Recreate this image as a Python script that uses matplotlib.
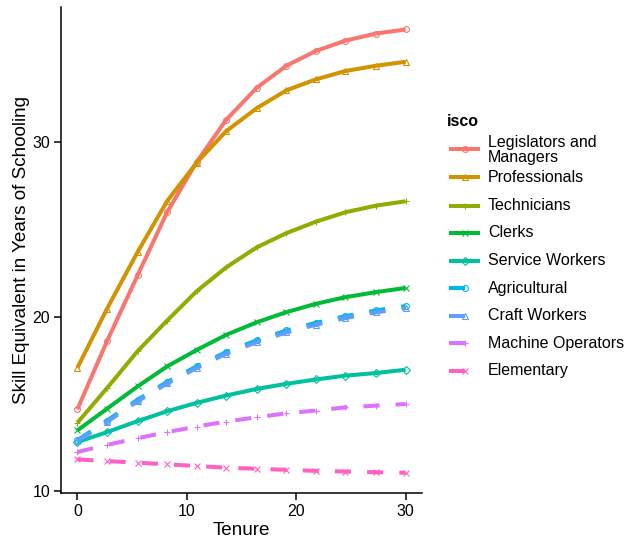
import matplotlib
matplotlib.use("Agg")
import matplotlib.pyplot as plt
from matplotlib.lines import Line2D

plt.rcParams['font.family'] = ['Liberation Sans', 'DejaVu Sans']

tenure = [0, 2.7, 5.5, 8.2, 10.9, 13.6, 16.4, 19.1, 21.8, 24.5, 27.3, 30]

categories = ["Legislators and\nManagers", "Professionals", "Technicians", "Clerks",
              "Service Workers", "Agricultural", "Craft Workers",
              "Machine Operators", "Elementary"]

legislators = [14.70, 18.60, 22.38, 26.00, 28.88, 31.30, 33.14, 34.40, 35.25, 35.84, 36.25, 36.48]
professionals = [17.08, 20.46, 23.72, 26.64, 28.84, 30.65, 31.97, 32.99, 33.62, 34.10, 34.40, 34.63]
technicians = [13.93, 15.91, 18.03, 19.79, 21.47, 22.84, 23.99, 24.80, 25.46, 26.00, 26.38, 26.63]
clerks = [13.49, 14.73, 16.01, 17.16, 18.10, 18.97, 19.69, 20.27, 20.75, 21.13, 21.42, 21.66]
agricultural = [12.93, 14.05, 15.25, 16.27, 17.16, 17.98, 18.66, 19.22, 19.66, 20.04, 20.37, 20.62]
craft = [12.87, 13.98, 15.16, 16.18, 17.07, 17.89, 18.55, 19.11, 19.55, 19.93, 20.26, 20.50]
service = [12.82, 13.39, 14.02, 14.59, 15.07, 15.49, 15.87, 16.16, 16.41, 16.63, 16.78, 16.97]
machine = [12.25, 12.66, 13.04, 13.39, 13.71, 14.00, 14.24, 14.47, 14.63, 14.81, 14.91, 15.00]
elementary = [11.83, 11.73, 11.64, 11.54, 11.45, 11.35, 11.29, 11.23, 11.17, 11.13, 11.09, 11.06]

series = [legislators, professionals, technicians, clerks, service,
          agricultural, craft, machine, elementary]

colors = ['#F8766D', '#D39200', '#93AA00', '#00BA38', '#00C19F',
          '#00B9E3', '#619CFF', '#DB72FB', '#FF61C3']
markers = ['o', '^', '+', 'x', 'D', 'o', '^', '+', 'x']
styles = ['-', '-', '-', '-', '-', '--', '--', '--', '--']

W, H = 626, 539
fig = plt.figure(figsize=(W / 100, H / 100), dpi=100)
ax = fig.add_axes([61 / W, 1 - 493 / H, (422 - 61) / W, (493 - 7) / H])

LW = 2.9
for ys, c, m, ls in zip(series, colors, markers, styles):
    kw = dict(color=c, lw=LW, linestyle=ls, marker=m, ms=4.2 if m != 'D' else 3.6,
              mfc='none', mec=c, mew=0.8, solid_capstyle='butt')
    if ls == '--':
        kw['dashes'] = (4, 4)
        kw['dash_capstyle'] = 'butt'
    ax.plot(tenure, ys, **kw)

ax.set_xlim(-1.5, 31.5)
ax.set_ylim(9.9, 37.77)
ax.set_xticks([0, 10, 20, 30])
ax.set_yticks([10, 20, 30])
for s in ['top', 'right']:
    ax.spines[s].set_visible(False)
for s in ['left', 'bottom']:
    ax.spines[s].set_linewidth(1.1)
    ax.spines[s].set_color('black')
ax.tick_params(axis='both', length=4.8, width=1.1, color='black',
               labelsize=11.5, labelcolor='black', pad=3)
ax.set_xlabel("Tenure", fontsize=13.6, labelpad=2.5)
ax.set_ylabel("Skill Equivalent in Years of Schooling", fontsize=13.6, labelpad=1.5)

# Legend (drawn manually to mimic ggplot guide)
def fx(px):
    return px / W

def fy(py):
    return 1 - py / H

fig.text(fx(447), fy(121), "isco", fontsize=11.5, fontweight='bold', va='center', ha='left')
key_y = [149, 177.3, 206, 232.7, 260.7, 288.3, 316, 343.3, 370.7]
for lab, c, m, ls, ky in zip(categories, colors, markers, styles, key_y):
    kw = dict(color=c, lw=LW, linestyle=ls, solid_capstyle='butt',
              transform=fig.transFigure)
    if ls == '--':
        kw['dashes'] = (4, 4)
        kw['dash_capstyle'] = 'butt'
    fig.add_artist(Line2D([fx(449), fx(480)], [fy(ky), fy(ky)], **kw))
    fig.add_artist(Line2D([fx(465)], [fy(ky)], marker=m, ms=4.2 if m != 'D' else 3.6,
                          mfc='none', mec=c, mew=0.8, linestyle='none',
                          transform=fig.transFigure))
    fig.text(fx(488), fy(ky + (1 if '\n' in lab else 0)), lab, fontsize=11.5,
             va='center', ha='left', linespacing=1.0)

fig.savefig("out.png", dpi=100)
